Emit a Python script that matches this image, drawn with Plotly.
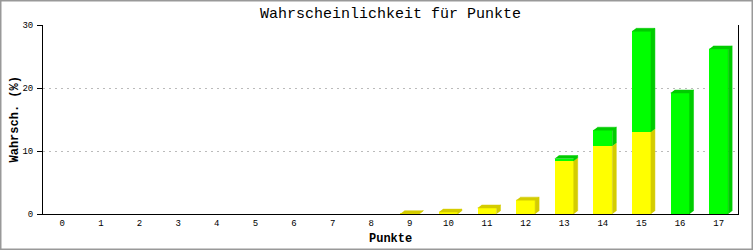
import plotly.graph_objects as go

categories = list(range(18))
tick_labels = [str(c) for c in categories]
yellow_vals = [0, 0, 0, 0, 0, 0, 0, 0, 0, 0.05, 0.3, 0.95, 2.2, 8.4, 10.8, 13.0, 0, 0]
green_vals = [0, 0, 0, 0, 0, 0, 0, 0, 0, 0, 0, 0, 0, 0.4, 2.5, 16.0, 19.2, 26.2]

title_text = "Wahrscheinlichkeit für Punkte"
x_title = "Punkte"
y_title = "Wahrsch. (%)"

W, H = 753, 250
ML, MR, MT, MB = 43, 15, 25, 36
PW, PH = W - ML - MR, H - MT - MB
Y_MAX = 30
BAR_W = 0.49
DX = 4 / (PW / len(categories))   # depth in category units
DY = 3 / (PH / Y_MAX)             # depth in value units

YEL, YEL_D = "#ffff00", "#d4cc00"
GRN, GRN_D = "#00ff00", "#00cc00"
FONT = "Liberation Mono"

fig = go.Figure()
fig.add_trace(go.Bar(x=categories, y=yellow_vals, width=BAR_W,
                     marker=dict(color=YEL, line=dict(width=0)), name="a"))
fig.add_trace(go.Bar(x=categories, y=green_vals, width=BAR_W,
                     marker=dict(color=GRN, line=dict(width=0)), name="b"))

# 3D side and top faces
polys = {YEL_D: ([], []), GRN_D: ([], [])}
for c, yv, gv in zip(categories, yellow_vals, green_vals):
    x0 = c - BAR_W / 2
    x1 = c + BAR_W / 2
    segs = []
    if yv > 0:
        segs.append((0, yv, YEL_D))
    if gv > 0:
        segs.append((yv, yv + gv, GRN_D))
    for (b, t, col) in segs:
        xs, ys = polys[col]
        xs += [x1, x1, x1 + DX, x1 + DX, None]
        ys += [b, t, t + DY, b + DY if b > 0 else DY, None]
    if segs:
        b, t, col = segs[-1]
        xs, ys = polys[col]
        xs += [x0, x1, x1 + DX, x0 + DX, None]
        ys += [t, t, t + DY, t + DY, None]

for col, (xs, ys) in polys.items():
    fig.add_trace(go.Scatter(x=xs, y=ys, mode="lines", fill="toself",
                             fillcolor=col, line=dict(width=0.5, color=col),
                             hoverinfo="skip"))

def px(xp):
    return (xp - ML) / PW

def py(yp):
    return (MT + PH - yp) / PH

fig.add_shape(type="rect", xref="paper", yref="paper",
              x0=px(0.5), x1=px(W - 0.5), y0=py(H - 0.5), y1=py(0.5),
              line=dict(color="#999999", width=2), layer="above")

# axis titles as annotations placed in the margins
fig.add_annotation(text=f"<b>{x_title}</b>", xref="paper", yref="paper",
                   x=0.5, y=py(239), xanchor="center", yanchor="middle",
                   showarrow=False, font=dict(family=FONT, size=12, color="black"))
fig.add_annotation(text=f"<b>{y_title}</b>", xref="paper", yref="paper",
                   x=px(14), y=0.5, xanchor="center", yanchor="middle", textangle=-90,
                   showarrow=False, font=dict(family=FONT, size=12, color="black"))

fig.update_layout(
    width=W, height=H,
    margin=dict(l=ML, r=MR, t=MT, b=MB, autoexpand=False),
    paper_bgcolor="white", plot_bgcolor="white",
    barmode="stack", showlegend=False,
    title=dict(text=title_text, x=0.5, xref="paper", xanchor="center",
               y=1 - 13 / H, yanchor="middle",
               font=dict(family=FONT, size=15, color="black")),
    font=dict(family=FONT, color="black"),
)
fig.update_xaxes(
    range=[-0.5, 17.5], tickmode="array", tickvals=categories, ticktext=tick_labels,
    showgrid=False, zeroline=False, showline=True, linecolor="black", linewidth=1,
    ticks="", tickfont=dict(family=FONT, size=9), ticklabelstandoff=0, automargin=False,
)
fig.update_yaxes(
    range=[0, Y_MAX], tickvals=[0, 10, 20, 30],
    showgrid=True, gridcolor="#bbbbbb", griddash="2px,4px", gridwidth=1,
    zeroline=False, showline=True, linecolor="black", linewidth=1, mirror=True,
    ticks="outside", ticklen=5, tickcolor="black",
    tickfont=dict(family=FONT, size=9), ticklabelstandoff=2, automargin=False,
)

fig.write_html("out.html")
